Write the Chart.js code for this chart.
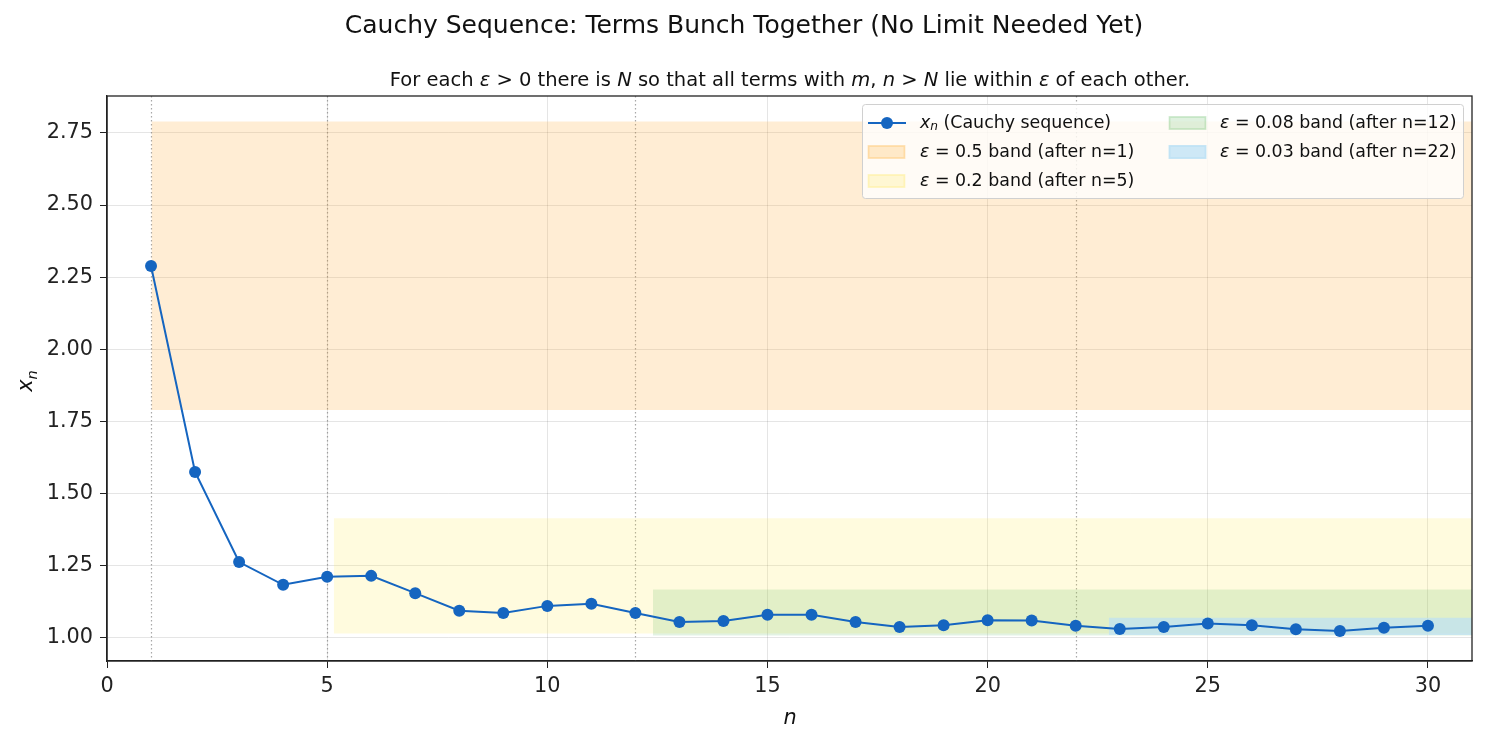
<!DOCTYPE html>
<html>
<head>
    <title>Cauchy Sequence</title>
    <script src="https://cdn.jsdelivr.net/npm/chart.js"></script>
    <style>
        body { margin: 0; background: white; }
        .wrap { width: 1488px; height: 743px; }
    </style>
</head>
<body>
    <div class="wrap">
        <canvas id="cauchyChart" width="1488" height="743"></canvas>
    </div>

    <script>
        // Sequence terms x_n, n = 1..30
        const nValues = [1, 2, 3, 4, 5, 6, 7, 8, 9, 10, 11, 12, 13, 14, 15,
                         16, 17, 18, 19, 20, 21, 22, 23, 24, 25, 26, 27, 28, 29, 30];
        const xnValues = [2.289, 1.575, 1.263, 1.184, 1.212, 1.215, 1.155, 1.094, 1.086, 1.111,
                          1.118, 1.086, 1.055, 1.059, 1.080, 1.080, 1.055, 1.038, 1.044, 1.061,
                          1.060, 1.042, 1.031, 1.038, 1.050, 1.044, 1.030, 1.024, 1.035, 1.042];

        // epsilon bands: start position, centre (x_N) and half width
        const bandEps = [0.5, 0.2, 0.08, 0.03];
        const bandN = [1, 5, 12, 22];
        const bandStart = [1.01, 5.15, 12.4, 22.75];
        const bandCentre = [2.29, 1.215, 1.088, 1.04];
        const bandColors = ['rgba(255,167,38,0.2)', 'rgba(255,230,50,0.16)',
                            'rgba(76,175,80,0.16)', 'rgba(190,225,245,0.7)'];
        const bandLegendColors = ['rgba(255,167,38,0.22)', 'rgba(255,230,50,0.18)',
                                  'rgba(76,175,80,0.18)', 'rgba(190,225,245,0.75)'];

        const xTicks = [0, 5, 10, 15, 20, 25, 30];
        const yTicks = [1.00, 1.25, 1.50, 1.75, 2.00, 2.25, 2.50, 2.75];
        const xMin = 0, xMax = 31;
        const yMin = 0.92, yMax = 2.878;

        const lineColor = '#1565C0';
        const FONT = '"DejaVu Sans", sans-serif';

        const datasets = [{
            label: 'x_n (Cauchy sequence)',
            data: nValues.map((n, i) => ({ x: n, y: xnValues[i] })),
            borderColor: lineColor,
            backgroundColor: lineColor,
            borderWidth: 2,
            pointRadius: 6,
            pointHoverRadius: 6,
            pointBorderWidth: 0,
            order: 0
        }];
        bandEps.forEach((eps, i) => {
            datasets.push({
                label: 'eps=' + eps + ' band (after n=' + bandN[i] + ')',
                data: [{ x: bandStart[i], y: bandCentre[i] + eps }, { x: xMax + 1, y: bandCentre[i] + eps }],
                borderWidth: 0,
                pointRadius: 0,
                backgroundColor: bandColors[i],
                fill: { value: bandCentre[i] - eps },
                order: 10 - i
            });
        });

        // text made of plain / italic / subscript pieces (stand-in for mathtext)
        function drawMixed(ctx, parts, x, y, size) {
            let cx = x;
            parts.forEach(p => {
                ctx.font = (p.italic ? 'italic ' : '') + (p.sub ? size * 0.7 : size) + 'px ' + FONT;
                ctx.fillText(p.t, cx, y + (p.sub ? size * 0.22 : 0));
                cx += ctx.measureText(p.t).width;
            });
            return cx - x;
        }
        function measureMixed(ctx, parts, size) {
            let w = 0;
            parts.forEach(p => {
                ctx.font = (p.italic ? 'italic ' : '') + (p.sub ? size * 0.7 : size) + 'px ' + FONT;
                w += ctx.measureText(p.t).width;
            });
            return w;
        }

        const decorPlugin = {
            id: 'decor',
            beforeDatasetsDraw(chart) {
                // dotted vertical markers at each N
                const { ctx, chartArea, scales } = chart;
                ctx.save();
                ctx.strokeStyle = 'rgba(110,110,110,0.6)';
                ctx.lineWidth = 1.2;
                ctx.setLineDash([1.5, 2.5]);
                bandN.forEach(N => {
                    const px = Math.round(scales.x.getPixelForValue(N)) + 0.5;
                    ctx.beginPath();
                    ctx.moveTo(px, chartArea.top);
                    ctx.lineTo(px, chartArea.bottom);
                    ctx.stroke();
                });
                ctx.restore();
            },
            afterDraw(chart) {
                const { ctx, chartArea } = chart;
                ctx.save();
                // frame
                ctx.strokeStyle = '#222';
                ctx.lineWidth = 1.3;
                ctx.strokeRect(chartArea.left, chartArea.top, chartArea.right - chartArea.left, chartArea.bottom - chartArea.top);

                // titles
                ctx.fillStyle = '#111';
                ctx.textAlign = 'center';
                ctx.textBaseline = 'alphabetic';
                ctx.font = '25px ' + FONT;
                ctx.fillText('Cauchy Sequence: Terms Bunch Together (No Limit Needed Yet)', 744, 33);

                const sub = [
                    { t: 'For each ' }, { t: 'ε', italic: true }, { t: ' > 0 there is ' }, { t: 'N', italic: true },
                    { t: ' so that all terms with ' }, { t: 'm', italic: true }, { t: ', ' }, { t: 'n', italic: true },
                    { t: ' > ' }, { t: 'N', italic: true }, { t: ' lie within ' }, { t: 'ε', italic: true },
                    { t: ' of each other.' }
                ];
                ctx.textAlign = 'left';
                const sw = measureMixed(ctx, sub, 19.5);
                drawMixed(ctx, sub, 790 - sw / 2, 86, 19.5);

                // axis labels
                ctx.font = 'italic 20.8px ' + FONT;
                ctx.textAlign = 'center';
                ctx.fillText('n', 790, 724);
                ctx.save();
                ctx.translate(32, 381);
                ctx.rotate(-Math.PI / 2);
                ctx.textAlign = 'left';
                const yl = [{ t: 'x', italic: true }, { t: 'n', italic: true, sub: true }];
                drawMixed(ctx, yl, -measureMixed(ctx, yl, 20.8) / 2, 0, 20.8);
                ctx.restore();

                // legend
                const lx = 862, ly = 104, lw = 601, lh = 94;
                ctx.fillStyle = 'rgba(255,255,255,0.8)';
                ctx.strokeStyle = '#d0d0d0';
                ctx.lineWidth = 1;
                ctx.beginPath();
                ctx.roundRect(lx + 0.5, ly + 0.5, lw, lh, 3);
                ctx.fill();
                ctx.stroke();

                ctx.textAlign = 'left';
                ctx.textBaseline = 'middle';
                const fs = 17.4;
                const rows = [123, 152, 181];
                // line entry
                ctx.strokeStyle = lineColor;
                ctx.lineWidth = 2;
                ctx.beginPath();
                ctx.moveTo(868, rows[0]);
                ctx.lineTo(906, rows[0]);
                ctx.stroke();
                ctx.fillStyle = lineColor;
                ctx.beginPath();
                ctx.arc(887, rows[0], 6, 0, Math.PI * 2);
                ctx.fill();
                ctx.fillStyle = '#111';
                drawMixed(ctx, [{ t: 'x', italic: true }, { t: 'n', italic: true, sub: true }, { t: ' (Cauchy sequence)' }], 920, rows[0], fs);

                const slots = [[868, rows[1], 920], [868, rows[2], 920], [1169, rows[0], 1220], [1169, rows[1], 1220]];
                bandEps.forEach((eps, i) => {
                    const [sx, sy, tx] = slots[i];
                    ctx.fillStyle = bandLegendColors[i];
                    ctx.fillRect(sx, sy - 6.5, 37, 13);
                    ctx.strokeStyle = bandLegendColors[i];
                    ctx.strokeRect(sx + 0.5, sy - 6, 36, 12);
                    ctx.fillStyle = '#111';
                    drawMixed(ctx, [{ t: 'ε', italic: true }, { t: ' = ' + eps + ' band (after n=' + bandN[i] + ')' }], tx, sy, fs);
                });
                ctx.restore();
            }
        };

        new Chart(document.getElementById('cauchyChart'), {
            type: 'line',
            data: { datasets: datasets },
            plugins: [decorPlugin],
            options: {
                responsive: false,
                animation: false,
                layout: { padding: { top: 96, right: 16, bottom: 0, left: 0 } },
                plugins: {
                    legend: { display: false },
                    tooltip: { enabled: false },
                    title: { display: false }
                },
                scales: {
                    x: {
                        type: 'linear',
                        min: xMin,
                        max: xMax,
                        afterBuildTicks: s => { s.ticks = xTicks.map(v => ({ value: v })); },
                        afterFit: s => { s.height = 82; },
                        ticks: { color: '#222', font: { family: FONT, size: 20.8 }, padding: 6, maxRotation: 0 },
                        grid: { color: 'rgba(0,0,0,0.1)', tickColor: '#222', tickLength: 7, lineWidth: 1 },
                        border: { display: true, color: '#222', width: 1.3 }
                    },
                    y: {
                        type: 'linear',
                        min: yMin,
                        max: yMax,
                        afterBuildTicks: s => { s.ticks = yTicks.map(v => ({ value: v })); },
                        afterFit: s => { s.width = 107; },
                        ticks: {
                            color: '#222', font: { family: FONT, size: 20.8 }, padding: 7,
                            callback: v => v.toFixed(2)
                        },
                        grid: { color: 'rgba(0,0,0,0.1)', tickColor: '#222', tickLength: 7, lineWidth: 1 },
                        border: { display: true, color: '#222', width: 1.3 }
                    }
                }
            }
        });
    </script>
</body>
</html>
